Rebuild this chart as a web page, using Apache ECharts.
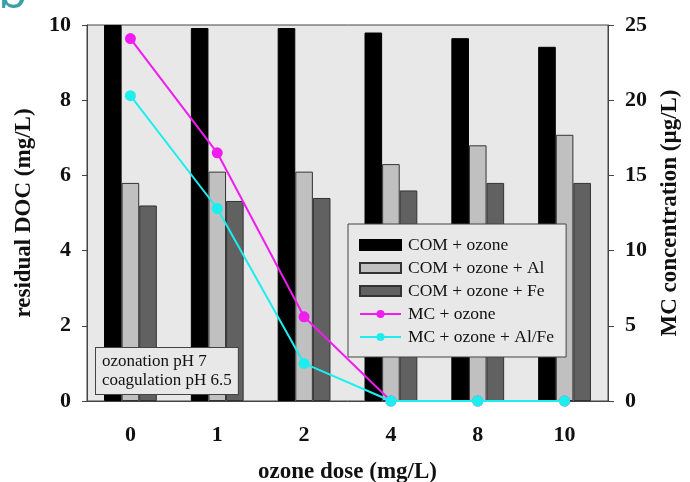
<!DOCTYPE html>
<html>
<head>
<meta charset="utf-8">
<script src="https://cdn.jsdelivr.net/npm/echarts@6/dist/echarts.min.js"></script>
<style>
  html, body { margin: 0; padding: 0; background: #fff; }
  #chart { width: 690px; height: 482px; }
</style>
</head>
<body>
<div id="chart"></div>
<script>
// ozone dose categories (mg/L)
const doses = ['0', '1', '2', '4', '8', '10']

// residual DOC (mg/L), left axis
const comOzone = [10, 9.92, 9.92, 9.8, 9.65, 9.42]
const comOzoneAl = [5.8, 6.1, 6.1, 6.3, 6.8, 7.08]
const comOzoneFe = [5.2, 5.32, 5.4, 5.6, 5.8, 5.8]

// MC concentration (ug/L), right axis
const mcOzone = [24.1, 16.5, 5.6, 0, 0, 0]
const mcOzoneAlFe = [20.3, 12.8, 2.5, 0, 0, 0]

const leftTicks = { min: 0, max: 10, interval: 2 }
const rightTicks = { min: 0, max: 25, interval: 5 }

const serif = '"Liberation Serif", "DejaVu Serif", serif'
const axisLine = { lineStyle: { color: '#444', width: 1 } }
const tickLabel = { color: '#111', fontFamily: serif, fontWeight: 'bold', fontSize: 22 }
const axisName = { color: '#111', fontFamily: serif, fontWeight: 'bold', fontSize: 23 }

const chart = echarts.init(document.getElementById('chart'))

chart.setOption({
  backgroundColor: '#fff',
  animation: false,
  grid: {
    left: 87, right: 82, top: 25, bottom: 81,
    containLabel: false,
    outerBoundsMode: 'none',
    show: true,
    backgroundColor: '#e8e8e8',
    borderColor: '#444',
    borderWidth: 1
  },
  legend: {
    orient: 'vertical',
    left: 348,
    top: 224,
    backgroundColor: '#e8e8e8',
    borderColor: '#444',
    borderWidth: 1,
    padding: [12, 12, 11, 11],
    itemGap: 5,
    itemWidth: 41,
    itemHeight: 10,
    textStyle: { fontFamily: serif, fontSize: 17.5, color: '#111', padding: [0, 0, 0, 2] },
    data: [
      { name: 'COM + ozone', icon: 'rect' },
      { name: 'COM + ozone + Al', icon: 'rect' },
      { name: 'COM + ozone + Fe', icon: 'rect' },
      'MC + ozone',
      'MC + ozone + Al/Fe'
    ]
  },
  xAxis: {
    type: 'category',
    data: doses,
    boundaryGap: true,
    axisLine: axisLine,
    axisTick: { alignWithLabel: true, length: 5, lineStyle: { color: '#444' } },
    axisLabel: { ...tickLabel, margin: 23 },
    name: 'ozone dose (mg/L)',
    nameLocation: 'middle',
    nameGap: 60,
    nameTextStyle: axisName
  },
  yAxis: [
    {
      type: 'value',
      ...leftTicks,
      position: 'left',
      axisLine: { show: true, ...axisLine },
      axisTick: { show: true, length: 5, lineStyle: { color: '#444' } },
      splitLine: { show: false },
      axisLabel: { ...tickLabel, margin: 16 },
      name: 'residual DOC (mg/L)',
      nameLocation: 'middle',
      nameGap: 51,
      nameRotate: 90,
      nameTextStyle: axisName
    },
    {
      type: 'value',
      ...rightTicks,
      position: 'right',
      axisLine: { show: true, ...axisLine },
      axisTick: { show: true, length: 6, lineStyle: { color: '#444' } },
      splitLine: { show: false },
      axisLabel: { ...tickLabel, margin: 17 },
      name: 'MC concentration (\u00b5g/L)',
      nameLocation: 'middle',
      nameGap: 51,
      nameRotate: 90,
      nameTextStyle: axisName
    }
  ],
  series: [
    {
      name: 'COM + ozone',
      type: 'bar',
      data: comOzone,
      barWidth: 17.6,
      barGap: '0%',
      itemStyle: { color: '#000', borderColor: '#000', borderWidth: 1 }
    },
    {
      name: 'COM + ozone + Al',
      type: 'bar',
      data: comOzoneAl,
      barWidth: 17.6,
      barGap: '0%',
      itemStyle: { color: '#c0c0c0', borderColor: '#333', borderWidth: 1 }
    },
    {
      name: 'COM + ozone + Fe',
      type: 'bar',
      data: comOzoneFe,
      barWidth: 17.6,
      barGap: '0%',
      itemStyle: { color: '#616161', borderColor: '#333', borderWidth: 1 }
    },
    {
      name: 'MC + ozone',
      type: 'line',
      yAxisIndex: 1,
      data: mcOzone,
      symbol: 'circle',
      symbolSize: 11,
      itemStyle: { color: '#f01cf0' },
      lineStyle: { color: '#f01cf0', width: 2 },
      z: 5
    },
    {
      name: 'MC + ozone + Al/Fe',
      type: 'line',
      yAxisIndex: 1,
      data: mcOzoneAlFe,
      symbol: 'circle',
      symbolSize: 11,
      itemStyle: { color: '#1ceef0' },
      lineStyle: { color: '#1ceef0', width: 2 },
      z: 6
    }
  ],
  graphic: [
    {
      type: 'text',
      left: -2,
      top: -30,
      style: { text: 'b', fontFamily: '"Open Sans", sans-serif', fontSize: 48, fill: '#3aa0a8' }
    },
    {
      type: 'text',
      left: 95,
      top: 347,
      z: 100,
      style: {
        text: 'ozonation pH 7\ncoagulation pH 6.5',
        fontFamily: serif,
        fontSize: 17,
        lineHeight: 19,
        fill: '#111',
        backgroundColor: '#e8e8e8',
        borderColor: '#444',
        borderWidth: 1,
        padding: [4, 6, 4, 6]
      }
    }
  ]
})
</script>
</body>
</html>
